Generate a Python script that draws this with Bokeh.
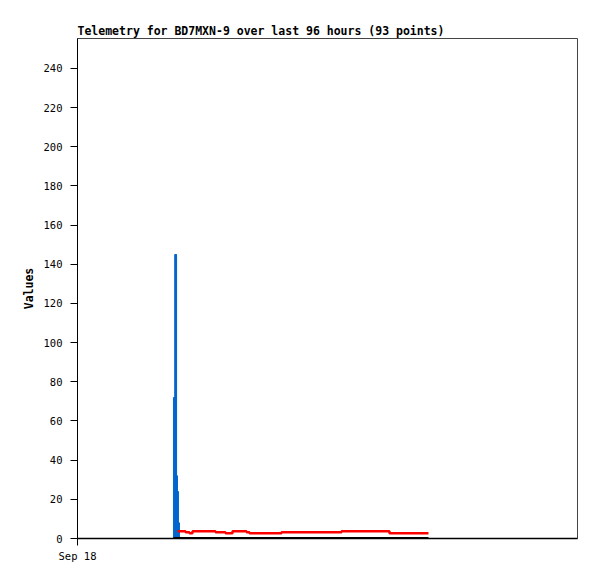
from bokeh.plotting import figure
from bokeh.models import Range1d, FixedTicker
from bokeh.embed import file_html
from bokeh.resources import INLINE

# hours since Sep 18 00:00
title_text = "Telemetry for BD7MXN-9 over last 96 hours (93 points)"
x_tick_pos = [0]
x_tick_labels = ["Sep 18"]
y_ticks = [0, 20, 40, 60, 80, 100, 120, 140, 160, 180, 200, 220, 240]

blue_t = [18.55, 18.80, 18.90, 19.07, 19.26, 19.45]
blue_v = [72, 145, 145, 32, 24, 8]

red_t = [19.2, 20.74, 21.5, 22.08, 26.5, 28.42, 29.76, 32.45, 33.02, 39.17, 50.69, 59.9, 67.39]
red_v = [3.7, 3.2, 2.7, 3.7, 3.2, 2.7, 3.7, 3.2, 2.7, 3.2, 3.7, 2.7, 2.7]

black_t = [18.43, 67.39]
black_v = [0, 0]

p = figure(width=589, height=571, output_backend="svg", toolbar_location=None,
           x_range=Range1d(0, 96), y_range=Range1d(0, 255.3),
           min_border_left=77, min_border_right=12, min_border_top=38, min_border_bottom=33)
p.title.text = title_text
p.title.text_font = "DejaVu Sans Mono"
p.title.text_font_size = "11.5px"
p.title.text_font_style = "bold"
p.title.text_color = "black"
p.title.offset = 0
p.title.standoff = 1

p.xgrid.visible = False
p.ygrid.visible = False
p.outline_line_color = "#444444"
p.outline_line_width = 1
p.background_fill_color = "white"
p.border_fill_color = "white"

p.vbar(x=blue_t, top=blue_v, bottom=0, width=0.25, color="#0066CC")
p.step(red_t, red_v, mode="after", line_color="#FF0000", line_width=2.5)
p.line(black_t, black_v, line_color="black", line_width=3)

ya = p.yaxis[0]
ya.ticker = FixedTicker(ticks=y_ticks)
ya.axis_label = "Values"
ya.axis_label_text_font = "DejaVu Sans Mono"
ya.axis_label_text_font_size = "11.5px"
ya.axis_label_text_font_style = "bold"
ya.axis_label_text_color = "black"
ya.axis_label_standoff = 5
ya.major_label_text_font = "DejaVu Sans Mono"
ya.major_label_text_font_size = "10.5px"
ya.major_label_text_color = "black"
ya.major_label_standoff = 8
ya.major_tick_out = 7
ya.major_tick_in = 0
ya.minor_tick_out = 0
ya.axis_line_color = "black"
ya.major_tick_line_color = "black"

xa = p.xaxis[0]
xa.ticker = FixedTicker(ticks=x_tick_pos)
xa.major_label_overrides = {t: l for t, l in zip(x_tick_pos, x_tick_labels)}
xa.major_label_text_font = "DejaVu Sans Mono"
xa.major_label_text_font_size = "10.5px"
xa.major_label_text_color = "black"
xa.major_label_standoff = 4
xa.major_tick_out = 7
xa.major_tick_in = 0
xa.minor_tick_out = 0
xa.axis_line_color = "black"
xa.major_tick_line_color = "black"
xa.axis_line_width = 1.5

open("out.html", "w").write(file_html(p, INLINE))
